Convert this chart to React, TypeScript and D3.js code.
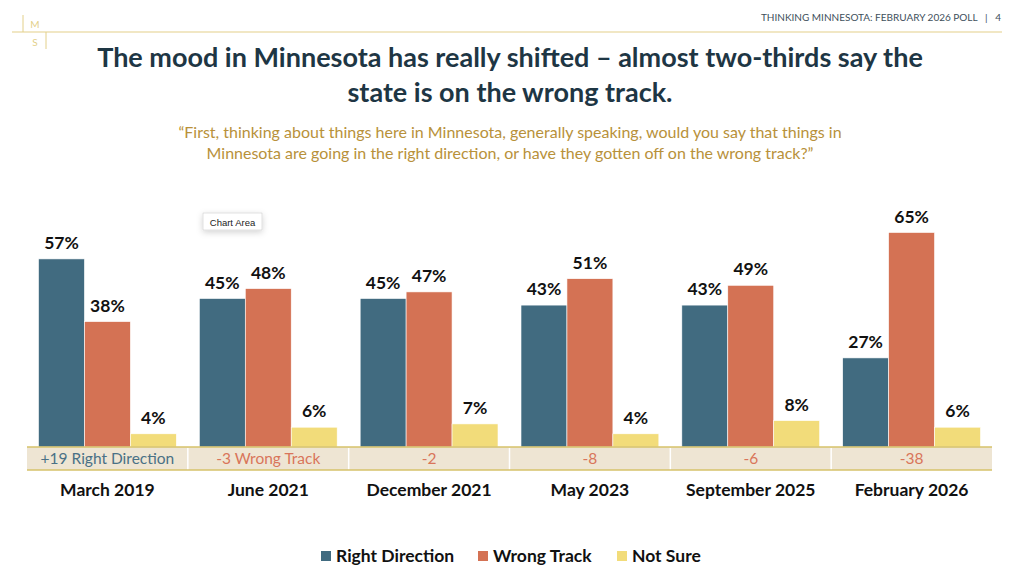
import * as d3 from 'd3';
import React from 'react';

const periods = ['March 2019', 'June 2021', 'December 2021', 'May 2023', 'September 2025', 'February 2026'];
const rightDirection = [57, 45, 45, 43, 43, 27];
const wrongTrack = [38, 48, 47, 51, 49, 65];
const notSure = [4, 6, 7, 4, 8, 6];
const netLabels = ['+19 Right Direction', '-3 Wrong Track', '-2', '-8', '-6', '-38'];
const seriesNames = ['Right Direction', 'Wrong Track', 'Not Sure'];

const colors = ['#416B80', '#D47254', '#F2DC7A'];
const FONT = 'Lato, "Open Sans", sans-serif';

const App: React.FC = () => {
  const W = 1024;
  const H = 578;
  const left = 27;
  const right = 992;
  const base = 447;

  const x = d3.scaleBand<string>().domain(periods).range([left, right]).paddingInner(0).paddingOuter(0);
  const inner = d3.scaleBand<string>().domain(seriesNames).range([11.5, x.bandwidth() - 11.5]);
  const y = d3.scaleLinear().domain([0, 70]).range([base, base - 231]);
  const values = [rightDirection, wrongTrack, notSure];

  return (
    <svg width={W} height={H} style={{ position: 'absolute', left: 0, top: 0, background: '#fff' }}>
      <defs>
        <filter id="sh" x="-30%" y="-30%" width="160%" height="180%">
          <feDropShadow dx="0" dy="2" stdDeviation="3" floodColor="#000" floodOpacity="0.18" />
        </filter>
      </defs>
      {/* header */}
      <line x1={12} x2={1002} y1={32} y2={32} stroke="#E3D08A" strokeWidth={1.2} />
      <line x1={23} x2={23} y1={15} y2={32} stroke="#E3D08A" strokeWidth={1} />
      <line x1={46} x2={46} y1={32} y2={49} stroke="#E3D08A" strokeWidth={1} />
      <text x={35} y={28} textAnchor="middle" fontFamily={FONT} fontSize={10} fill="#E3D08A">M</text>
      <text x={35} y={46} textAnchor="middle" fontFamily={FONT} fontSize={10} fill="#E3D08A">S</text>
      <text x={1001} y={21} textAnchor="end" fontFamily={FONT} fontSize={10} fill="#3E4F5B" style={{ whiteSpace: 'pre' }}>
        {'THINKING MINNESOTA: FEBRUARY 2026 POLL   |   4'}
      </text>

      {/* title */}
      <text x={510} y={67} textAnchor="middle" fontFamily={FONT} fontWeight={700} fontSize={27} fill="#1E3644">
        The mood in Minnesota has really shifted – almost two-thirds say the
      </text>
      <text x={510} y={102} textAnchor="middle" fontFamily={FONT} fontWeight={700} fontSize={27} fill="#1E3644">
        state is on the wrong track.
      </text>
      <text x={510} y={138} textAnchor="middle" fontFamily={FONT} fontSize={16} fill="#B8913A">
        “First, thinking about things here in Minnesota, generally speaking, would you say that things in
      </text>
      <text x={510} y={159} textAnchor="middle" fontFamily={FONT} fontSize={16} fill="#B8913A">
        Minnesota are going in the right direction, or have they gotten off on the wrong track?”
      </text>

      {/* bars */}
      {periods.map((p, i) => (
        <g key={p} transform={`translate(${x(p)},0)`}>
          {seriesNames.map((s, j) => {
            const v = values[j][i];
            const bx = inner(s)!;
            return (
              <g key={s}>
                <rect x={bx} y={y(v)} width={inner.bandwidth()} height={base - y(v)} fill={colors[j]} stroke="#fff" strokeWidth={0.6} />
                <text x={bx + inner.bandwidth() / 2} y={y(v) - 10} textAnchor="middle" fontFamily={FONT} fontWeight={700} fontSize={17.5} fill="#111">
                  {v}%
                </text>
              </g>
            );
          })}
        </g>
      ))}

      {/* net table */}
      <rect x={left} y={base} width={right - left} height={23} fill="#EEE5D3" />
      {periods.map((p, i) => (
        <g key={'n' + p}>
          {i > 0 && <line x1={x(p)} x2={x(p)} y1={base + 1} y2={base + 23} stroke="#fff" strokeWidth={1.5} />}
          <text x={x(p)! + x.bandwidth() / 2} y={base + 16.5} textAnchor="middle" fontFamily={FONT} fontSize={15.5}
            fill={netLabels[i].startsWith('+') ? '#4A7186' : '#D9755A'}>
            {netLabels[i]}
          </text>
          <text x={x(p)! + x.bandwidth() / 2} y={base + 49} textAnchor="middle" fontFamily={FONT} fontWeight={700} fontSize={17.5} fill="#111">
            {p}
          </text>
        </g>
      ))}
      <line x1={left} x2={right} y1={base} y2={base} stroke="#D6C26A" strokeWidth={1.5} />
      <line x1={left} x2={right} y1={base + 23} y2={base + 23} stroke="#D6C26A" strokeWidth={1.5} />

      {/* legend */}
      {seriesNames.map((s, j) => {
        const lx = [321, 478, 617][j];
        return (
          <g key={'l' + s}>
            <rect x={lx} y={551} width={10} height={10} fill={colors[j]} />
            <text x={lx + 15} y={562} fontFamily={FONT} fontWeight={700} fontSize={17.5} fill="#111">{s}</text>
          </g>
        );
      })}

      {/* chart area tooltip */}
      <rect x={203} y={213} width={59} height={17} fill="#fff" stroke="#ccc" strokeWidth={0.6} filter="url(#sh)" />
      <text x={232.5} y={225.5} textAnchor="middle" fontFamily={'"Liberation Sans", sans-serif'} fontSize={9.5} fill="#222">Chart Area</text>
    </svg>
  );
};

export default App;
